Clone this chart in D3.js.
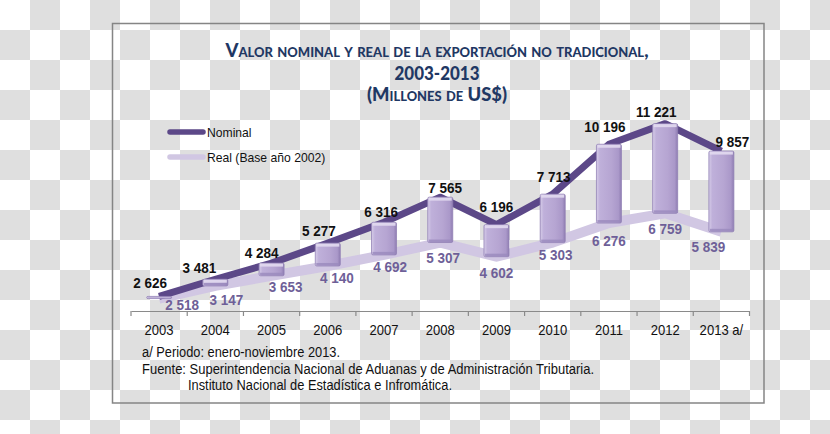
<!DOCTYPE html>
<html><head><meta charset="utf-8">
<script src="https://cdn.jsdelivr.net/npm/d3@7/dist/d3.min.js"></script>
<style>
html,body{margin:0;padding:0;background:#fff;}
svg{display:block;}
</style></head>
<body>
<svg id="chart" width="830" height="434"></svg>
<script>
// ---- data ----
const years = ["2003","2004","2005","2006","2007","2008","2009","2010","2011","2012","2013 a/"];
const nominal = [2626, 3481, 4284, 5277, 6316, 7565, 6196, 7713, 10196, 11221, 9857];
const real = [2518, 3147, 3653, 4140, 4692, 5307, 4602, 5303, 6276, 6759, 5839];
const seriesNames = ["Nominal", "Real (Base año 2002)"];
const titleLines = ["Valor nominal y real de la exportación no tradicional,", "2003-2013", "(Millones de US$)"];
const notes = ["a/ Periodo: enero-noviembre 2013.",
  "Fuente: Superintendencia Nacional de Aduanas y de Administración Tributaria.",
  "Instituto Nacional de Estadística e Infromática."];
const yDomain = [2000, 12000];

// label nudges (layout only)
const nomNudgeX = [-9,-16,-10,-9,-3,5,0,1,-4,-9,11];
const nomNudgeY = [-2,0,1,-1,1,2,-7,-6,-6,-1,2];
const realNudgeX = [23,11,14,9,6,3,0,3,0,0,-13];
const realNudgeY = [-7,1,-2,-1,-1,2,3,-1,5,3,2];

const svg = d3.select("#chart");
const defs = svg.append("defs");

// horizontally condense text (the reference's type is narrow)
function condense(sel, f){
  sel.each(function(){
    const w = this.getComputedTextLength();
    d3.select(this).attr("textLength", w*f).attr("lengthAdjust","spacingAndGlyphs");
  });
}

// checkerboard background
const pat = defs.append("pattern").attr("id","checker").attr("width",60).attr("height",60)
  .attr("patternUnits","userSpaceOnUse");
pat.append("rect").attr("width",60).attr("height",60).attr("fill","#ffffff");
pat.append("rect").attr("x",30).attr("y",0).attr("width",30).attr("height",30).attr("fill","#dfdfdf");
pat.append("rect").attr("x",0).attr("y",30).attr("width",30).attr("height",30).attr("fill","#dfdfdf");
svg.append("rect").attr("width",830).attr("height",434).attr("fill","url(#checker)");

// bar gradient
const g1 = defs.append("linearGradient").attr("id","barGrad").attr("x1","0").attr("x2","1").attr("y1","0").attr("y2","0");
[["0%","#d6cce8"],["14%","#bfb0da"],["60%","#b6a5d2"],["88%","#aa98c9"],["100%","#8f7db2"]]
  .forEach(s=>g1.append("stop").attr("offset",s[0]).attr("stop-color",s[1]));

// frame
svg.append("rect").attr("x",112.5).attr("y",23.5).attr("width",651.5).attr("height",379.5)
  .attr("fill","none").attr("stroke","#858585").attr("stroke-width",1.5);

// title
const titleG = svg.append("g").attr("fill","#1f3864").attr("font-family","Lato, 'Open Sans', sans-serif")
  .attr("font-weight","900").attr("text-anchor","middle");
const titleY = [57, 80, 101];
const titleW = [423, 85, 140];
titleLines.forEach((t,i)=>{
  titleG.append("text").attr("x",437).attr("y",titleY[i]).attr("font-size",18.5)
    .style("font-variant","small-caps")
    .attr("textLength",titleW[i]).attr("lengthAdjust","spacingAndGlyphs").text(t);
});

// scales
const x = d3.scaleBand().domain(years).range([131, 749.5]).padding(0);
const y = d3.scaleLinear().domain(yDomain).range([309, 108]);
const cx = d => x(d) + x.bandwidth()/2;
const barW = 25;

// axis
const axisY = 311;
const axisG = svg.append("g").attr("transform",`translate(0,${axisY})`)
  .call(d3.axisBottom(x).tickSize(0).tickPadding(13).tickSizeOuter(0));
axisG.select(".domain").attr("stroke","#8a8a8a").attr("stroke-width",1.2);
axisG.selectAll(".tick text").attr("font-family","'Liberation Sans', Arial, sans-serif")
  .attr("font-size",15).attr("fill","#111").call(condense, 0.87);
const bounds = years.map(d=>x(d)).concat([x.range()[1]]);
axisG.selectAll("line.bound").data(bounds).join("line").attr("class","bound")
  .attr("x1",d=>d).attr("x2",d=>d).attr("y1",0).attr("y2",5)
  .attr("stroke","#8a8a8a").attr("stroke-width",1.2);

// lines
const data = years.map((d,i)=>({year:d, nom:nominal[i], real:real[i], i}));
const lineNom = d3.line().x(d=>cx(d.year)).y(d=>y(d.nom));
const lineReal = d3.line().x(d=>cx(d.year)).y(d=>y(d.real));
svg.append("path").datum(data).attr("d",lineReal).attr("fill","none")
  .attr("stroke","#d1c7e3").attr("stroke-width",10).attr("stroke-linejoin","round");
svg.append("path").datum(data).attr("d",lineNom).attr("fill","none")
  .attr("stroke","#5c4888").attr("stroke-width",7).attr("stroke-linejoin","round");

// up-down bars
const bars = svg.append("g").selectAll("g").data(data).join("g");
bars.append("rect")
  .attr("x",d=>cx(d.year)-barW/2).attr("width",barW)
  .attr("y",d=>y(d.nom)).attr("height",d=>Math.max(2, y(d.real)-y(d.nom)))
  .attr("fill","url(#barGrad)").attr("stroke","#9282b5").attr("stroke-width",0.8)
  .attr("rx",1.5);
bars.append("rect")
  .attr("x",d=>cx(d.year)-barW/2+1).attr("width",barW-2)
  .attr("y",d=>y(d.nom)+0.5).attr("height",d=>Math.min(3, Math.max(1,y(d.real)-y(d.nom)-1)))
  .attr("fill","#e2daef").attr("opacity",0.9);
bars.append("rect")
  .attr("x",d=>cx(d.year)-barW/2+1).attr("width",barW-2)
  .attr("y",d=>Math.max(y(d.nom)+1, y(d.real)-3)).attr("height",d=>Math.min(2.5, Math.max(0.5,y(d.real)-y(d.nom)-1.5)))
  .attr("fill","#9a89bd").attr("opacity",0.8);

// labels
const fmt = d3.formatLocale({decimal:",", thousands:" ", grouping:[3], currency:["",""]}).format(",d");
svg.append("g").selectAll("text").data(data).join("text")
  .attr("x",d=>cx(d.year)+nomNudgeX[d.i]).attr("y",d=>y(d.nom)-6+nomNudgeY[d.i])
  .attr("text-anchor","middle").attr("font-family","'Liberation Sans', Arial, sans-serif")
  .attr("font-weight","bold").attr("font-size",15).attr("fill","#111")
  .text(d=>fmt(d.nom)).call(condense, 0.9);
svg.append("g").selectAll("text").data(data).join("text")
  .attr("x",d=>cx(d.year)+realNudgeX[d.i]).attr("y",d=>y(d.real)+18+realNudgeY[d.i])
  .attr("text-anchor","middle").attr("font-family","'Liberation Sans', Arial, sans-serif")
  .attr("font-weight","bold").attr("font-size",15).attr("fill","#6e5f98")
  .text(d=>fmt(d.real)).call(condense, 0.9);

// legend
const legend = svg.append("g").attr("font-family","'Liberation Sans', Arial, sans-serif").attr("font-size",13.5);
const legColors = ["#5c4888","#d1c7e3"];
seriesNames.forEach((n,i)=>{
  const ly = 132 + i*25;
  legend.append("line").attr("x1",170).attr("x2",203).attr("y1",ly).attr("y2",ly)
    .attr("stroke",legColors[i]).attr("stroke-width",5.5).attr("stroke-linecap","round");
  legend.append("text").attr("x",207).attr("y",ly+5).attr("fill","#111").text(n).call(condense, 0.9);
});

// notes
const notesG = svg.append("g").attr("font-family","'Liberation Sans', Arial, sans-serif")
  .attr("font-size",15.5).attr("fill","#111");
const noteX = [142, 142, 188], noteY = [357, 374, 390], noteW = [198, 452, 264];
notes.forEach((t,i)=>{
  notesG.append("text").attr("x",noteX[i]).attr("y",noteY[i])
    .attr("textLength",noteW[i]).attr("lengthAdjust","spacingAndGlyphs").text(t);
});
</script>
</body></html>
